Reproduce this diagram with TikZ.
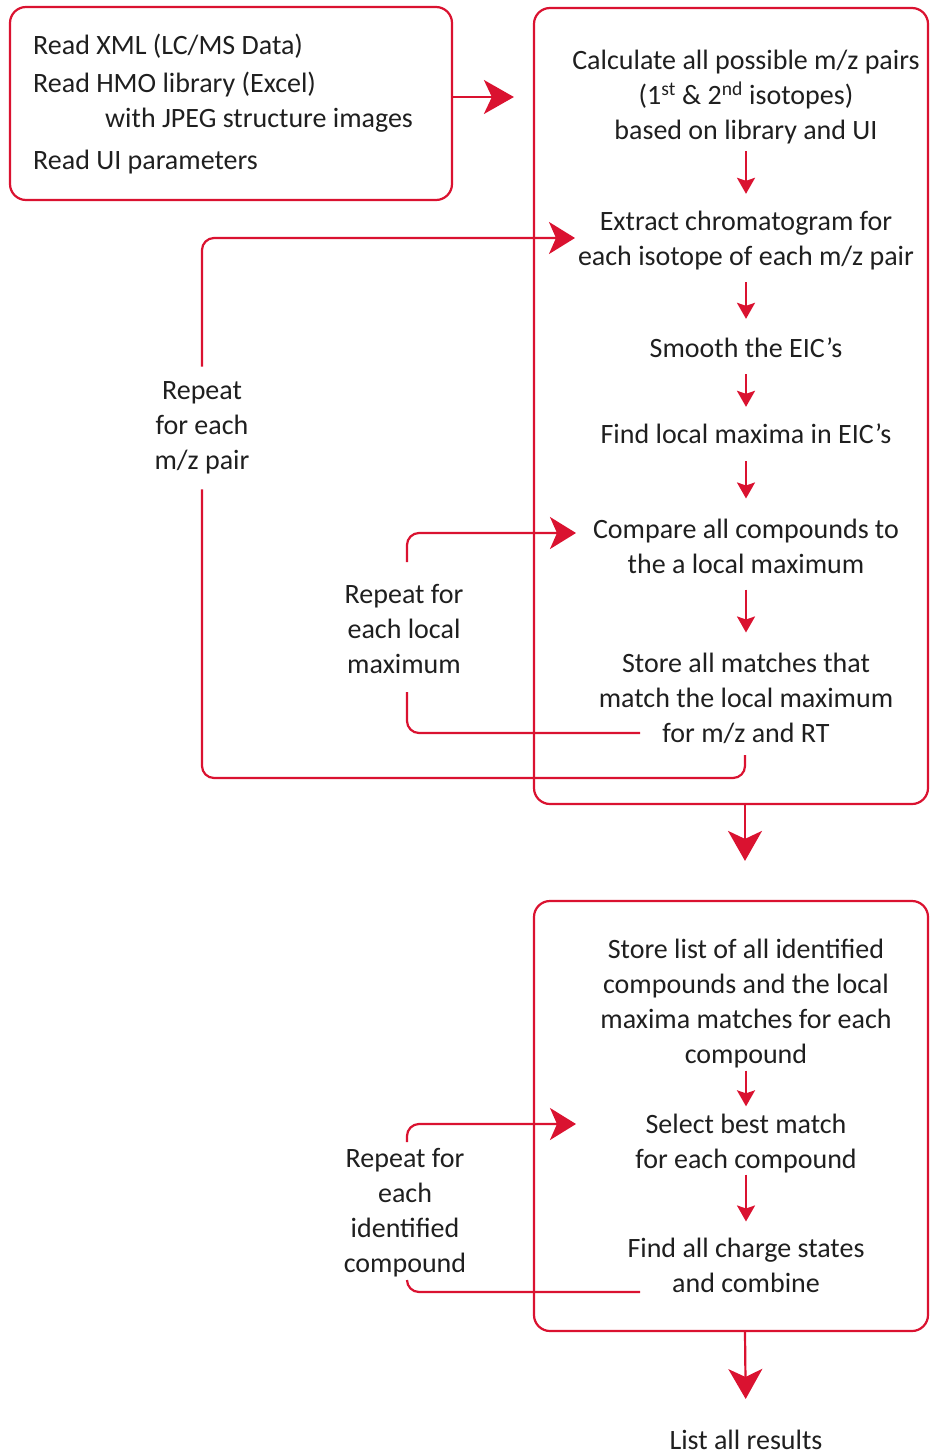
\documentclass[tikz,border=0pt]{standalone}
\usepackage{fontspec}
\setmainfont{Carlito}
\usetikzlibrary{arrows.meta}
\definecolor{fred}{RGB}{218,18,48}
\begin{document}
\begin{tikzpicture}[x=1pt,y=-1pt,
  every node/.style={font=\fontsize{28}{35}\selectfont, text=black!88, inner sep=0pt},
  txt/.style={align=center},
  lbl/.style={align=center, inner ysep=15pt},
  box/.style={draw=fred, line width=2.2pt, rounded corners=16pt},
  conn/.style={draw=fred, line width=2.2pt},
  small/.style={conn, -{Stealth[length=16pt,width=18pt,inset=3pt]}},
  loopline/.style={conn, rounded corners=12pt},
  looparr/.style={conn, rounded corners=12pt, -{Stealth[length=26pt,width=32pt,inset=7pt]}},
  big/.style={conn, -{Stealth[length=30pt,width=34pt,inset=8pt]}}]
\useasboundingbox (0,0) rectangle (930,1454);

% boxes
\node[box, minimum width=442pt, minimum height=193pt] (b0) at (231,103.5) {};
\node[box, minimum width=394pt, minimum height=796pt] (b1) at (731,406) {};
\node[box, minimum width=394pt, minimum height=430pt] (b2) at (731,1116) {};

% input box text
\node[anchor=west] (r1) at (33,46) {Read XML (LC/MS Data)};
\node[anchor=west] (r2) at (33,85) {Read HMO library (Excel)};
\node[anchor=west] (r3) at (105,120) {with JPEG structure images};
\node[anchor=west] (r4) at (33,162) {Read UI parameters};

% steps
\node[txt] (t1) at (746,97) {Calculate all possible m/z pairs\\(1\textsuperscript{st} \& 2\textsuperscript{nd} isotopes)\\based on library and UI};
\node[txt] (t2) at (746,241) {Extract chromatogram for\\each isotope of each m/z pair};
\node[txt] (t3) at (746,348) {Smooth the EIC’s};
\node[txt] (t4) at (746,434) {Find local maxima in EIC’s};
\node[txt] (t5) at (746,546) {Compare all compounds to\\the a local maximum};
\node[txt] (t6) at (746,698) {Store all matches that\\match the local maximum\\for m/z and RT};
\node[txt] (t7) at (746,1004) {Store list of all identified\\compounds and the local\\maxima matches for each\\compound};
\node[txt] (t8) at (746,1144) {Select best match\\for each compound};
\node[txt] (t9) at (746,1265) {Find all charge states\\and combine};
\node[txt] (res) at (746,1440) {List all results};

% loop labels
\node[lbl] (l1) at (202,428) {Repeat\\for each\\m/z pair};
\node[lbl] (l2) at (404,629) {Repeat for\\each local\\maximum};
\node[lbl, inner ysep=3pt] (l3) at (405,1213) {Repeat for\\each\\identified\\compound};

% loop endpoints
\coordinate (o6) at (745,755);
\coordinate (in2) at (575,238);
\coordinate (o6b) at (640,733);
\coordinate (in5) at (576,533);
\coordinate (o9) at (640,1292);
\coordinate (in8) at (576,1124);

% main arrows
\draw[big] ([yshift=6.5pt]b0.east) -- ([yshift=6.5pt]b0.east -| b1.west) [shorten >=19pt];
\draw[small] ([yshift=-7pt]t1.south) -- ([yshift=17.5pt]t2.north);
\draw[small] ([yshift=-11.5pt]t2.south) -- ([yshift=19pt]t3.north);
\draw[small] ([yshift=-16pt]t3.south) -- ([yshift=17pt]t4.north);
\draw[small] ([yshift=-17pt]t4.south) -- ([yshift=20pt]t5.north);
\draw[small] ([yshift=-16pt]t5.south) -- ([yshift=20pt]t6.north);
\draw[small] ([yshift=-2pt]t7.south) -- ([yshift=8pt]t8.north);
\draw[small] ([yshift=-1pt]t8.south) -- ([yshift=16pt]t9.north);
\draw[big] (o6 |- b1.south) -- (o6 |- b2.north) [shorten >=39pt];
\draw[big] (o6 |- b2.south) -- (res.north) [shorten >=31pt];

% loops
\draw[loopline] (o6) -- (745,778) -- (202,778) -- (l1.south);
\draw[looparr] (l1.north) -- (202,238) -- (in2);
\draw[loopline] (o6b) -- (407,733) -- (407,692);
\draw[looparr] (407,562) -- (407,533) -- (in5);
\draw[loopline] (o9) -- (407,1292) -- (407,1280);
\draw[looparr] (407,1142) -- (407,1124) -- (in8);
\end{tikzpicture}
\end{document}
